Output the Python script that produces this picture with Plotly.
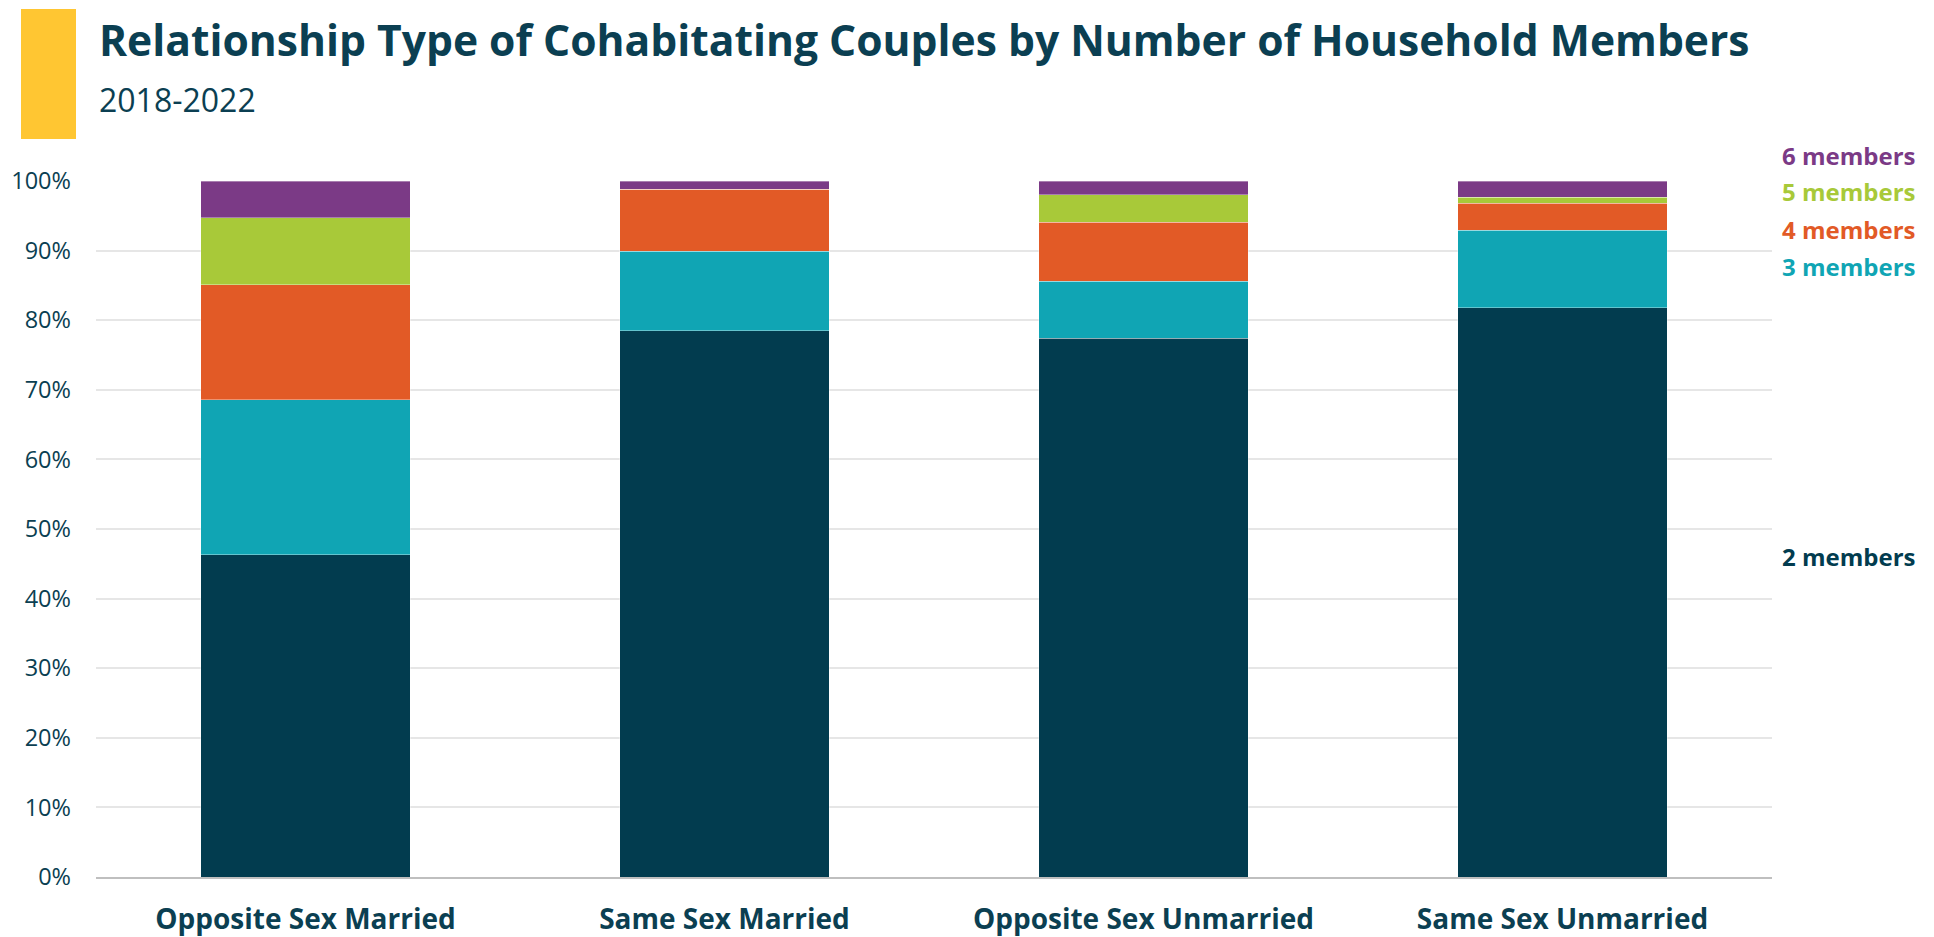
import plotly.graph_objects as go

categories = ["Opposite Sex Married", "Same Sex Married", "Opposite Sex Unmarried", "Same Sex Unmarried"]
members_2 = [46.3, 78.5, 77.4, 81.8]
members_3 = [22.3, 11.4, 8.2, 11.1]
members_4 = [16.5, 8.9, 8.5, 3.9]
members_5 = [9.6, 0.0, 3.9, 0.9]
members_6 = [5.3, 1.2, 2.0, 2.3]

series_names = ["2 members", "3 members", "4 members", "5 members", "6 members"]
series_values = [members_2, members_3, members_4, members_5, members_6]
series_colors = ["#023C4F", "#10A5B4", "#E25A26", "#A8C939", "#7B3A86"]
label_y = [0.46, 0.877, 0.9306, 0.9855, 1.0365]

tick_vals = [0, 10, 20, 30, 40, 50, 60, 70, 80, 90, 100]
tick_text = [f"{v}%" for v in tick_vals]

TEXT = "#0B3F52"
FONT = "Open Sans"

fig = go.Figure()
for name, vals, col in zip(series_names, series_values, series_colors):
    fig.add_trace(go.Bar(
        x=categories, y=vals, name=name,
        marker=dict(color=col, line=dict(color="rgba(255,255,255,0.35)", width=1)),
        showlegend=False, hoverinfo="skip",
    ))

OFF = 8  # default page body margin
W, H = 1934 - OFF, 937 - OFF
# plot area in window pixels: x 96..1772, y 181..877
L = 96 - OFF
T = 181 - OFF
R = W - (1772 - OFF)
B = H - (877 - OFF)
pw, ph = W - L - R, H - T - B

def px_x(px):
    return (px - OFF - L) / pw

def px_y(py):
    return (H - B - (py - OFF)) / ph

annotations = []
for name, col, ly in zip(series_names, series_colors, label_y):
    annotations.append(dict(
        text=f"<b>{name}</b>", x=px_x(1780), y=ly, xref="paper", yref="paper",
        xanchor="left", yanchor="middle", showarrow=False,
        font=dict(family=FONT, size=24, color=col),
    ))
annotations.append(dict(
    text="<b>Relationship Type of Cohabitating Couples by Number of Household Members</b>",
    x=px_x(97), y=px_y(39), xref="paper", yref="paper", xanchor="left", yanchor="middle",
    showarrow=False, font=dict(family=FONT, size=42.6, color=TEXT),
))
annotations.append(dict(
    text="2018-2022",
    x=px_x(97), y=px_y(99), xref="paper", yref="paper", xanchor="left", yanchor="middle",
    showarrow=False, font=dict(family=FONT, size=32, color=TEXT),
))

shapes = [dict(
    type="rect", xref="paper", yref="paper",
    x0=px_x(21), x1=px_x(76), y0=px_y(139), y1=px_y(9),
    fillcolor="#FFC632", line=dict(width=0),
)]

fig.update_layout(
    barmode="stack",
    bargap=0.5,
    width=W, height=H,
    margin=dict(l=L, r=R, t=T, b=B, autoexpand=False),
    paper_bgcolor="white", plot_bgcolor="white",
    font=dict(family=FONT, color=TEXT),
    annotations=annotations,
    shapes=shapes,
    xaxis=dict(
        showgrid=False, showline=True, linecolor="#BFBFBF", linewidth=2,
        tickfont=dict(family=FONT, size=28, color=TEXT, weight="bold"),
        ticklabelstandoff=16, ticks="",
    ),
    yaxis=dict(
        range=[0, 100], tickvals=tick_vals, ticktext=tick_text,
        showgrid=True, gridcolor="#E6E6E6", gridwidth=2,
        zeroline=False, showline=False,
        tickfont=dict(family=FONT, size=23.5, color=TEXT),
        ticklabelstandoff=24, ticks="",
    ),
)

fig.write_html("out.html")
